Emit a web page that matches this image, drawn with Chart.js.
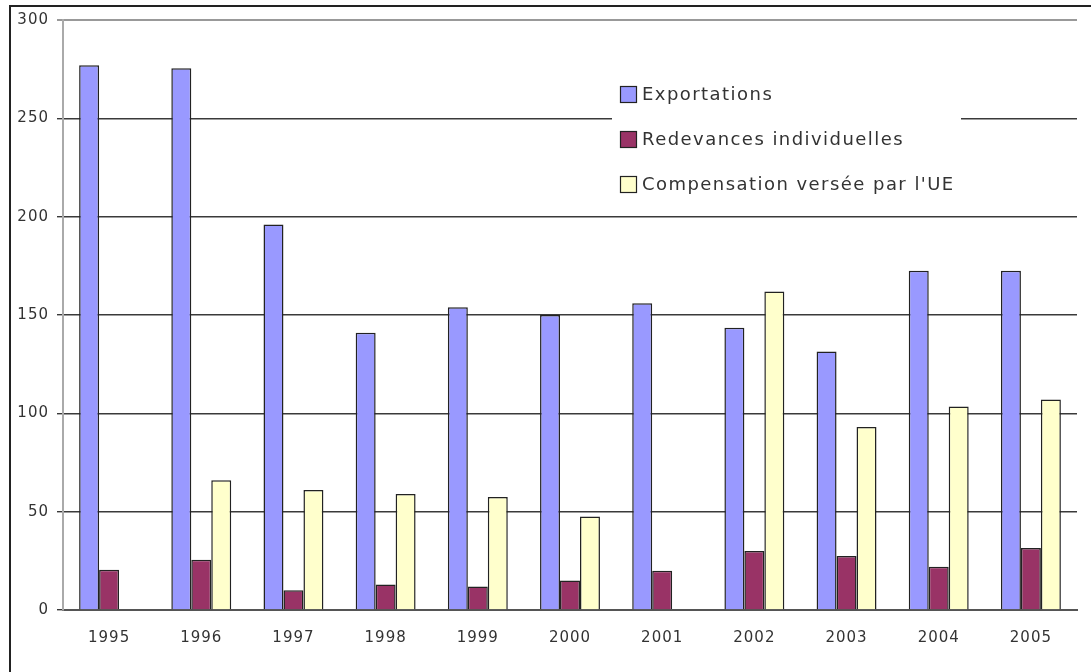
<!DOCTYPE html>
<html lang="fr">
<head>
<meta charset="utf-8">
<title>Exportations, redevances et compensation UE</title>
<script src="https://cdn.jsdelivr.net/npm/chart.js@4/dist/chart.umd.min.js"></script>
<style>
  html, body { margin: 0; padding: 0; background: #fff; }
  #wrap { position: relative; width: 1091px; height: 672px; overflow: hidden; }
  #frame {
    position: absolute; left: 9px; top: 5px; right: -10px; bottom: -10px;
    border-top: 2px solid #222; border-left: 2px solid #222;
    pointer-events: none;
  }
  canvas { position: absolute; left: 0; top: 0; }
</style>
</head>
<body>
<div id="wrap">
  <canvas id="peche" width="1091" height="672"></canvas>
  <div id="frame"></div>
</div>
<script>
const years = ['1995', '1996', '1997', '1998', '1999', '2000', '2001', '2002', '2003', '2004', '2005'];
const exportations = [277, 275.5, 196, 141, 154, 150, 156, 143.5, 131.5, 172.5, 172.5];
const redevances = [20.5, 25.5, 10, 13, 12, 15, 20, 30, 27.5, 22, 31.5];
const compensation = [null, 66, 61, 59, 57.5, 47.5, null, 162, 93, 103.5, 107];
const yTicks = [0, 50, 100, 150, 200, 250, 300];

const FONT = '"DejaVu Sans", Verdana, sans-serif';

// slightly spaced-out lettering for every label on the canvas
const spacing = {
  id: 'spacing',
  beforeDraw(chart) { chart.ctx.letterSpacing = '1px'; }
};

// legend drawn inside the plot, on a white box that hides the grid behind it
const boxLegend = {
  id: 'boxLegend',
  beforeDatasetsDraw(chart) {
    const ctx = chart.ctx;
    ctx.save();
    ctx.fillStyle = '#fff';
    ctx.fillRect(612, 62, 349, 145);
    ctx.font = '18px ' + FONT;
    ctx.letterSpacing = '1.45px';
    ctx.textBaseline = 'middle';
    chart.data.datasets.forEach((ds, i) => {
      const y = 95 + i * 45;
      ctx.fillStyle = ds.backgroundColor;
      ctx.fillRect(620.5, y - 8.5, 16, 16);
      ctx.strokeStyle = '#222';
      ctx.lineWidth = 1.2;
      ctx.strokeRect(620.5, y - 8.5, 16, 16);
      ctx.fillStyle = '#333';
      ctx.fillText(ds.label, 642, y);
    });
    ctx.restore();
  }
};

const ctx = document.getElementById('peche').getContext('2d');

new Chart(ctx, {
  type: 'bar',
  data: {
    labels: years,
    datasets: [
      { label: 'Exportations', data: exportations, backgroundColor: '#9999FF' },
      { label: 'Redevances individuelles', data: redevances, backgroundColor: '#993366' },
      { label: "Compensation versée par l'UE", data: compensation, backgroundColor: '#FFFFCC' }
    ]
  },
  options: {
    responsive: false,
    animation: false,
    layout: { padding: { top: 20, right: 14, left: 0, bottom: 0 } },
    datasets: {
      bar: {
        borderColor: '#222',
        borderWidth: 1.5,
        categoryPercentage: 0.65,
        barPercentage: 1.0
      }
    },
    plugins: {
      legend: { display: false },
      tooltip: { enabled: false }
    },
    scales: {
      x: {
        grid: { display: false, drawTicks: false },
        border: { display: true, color: '#555', width: 2 },
        ticks: { color: '#333', font: { family: FONT, size: 15 }, padding: 19 },
        afterFit: scale => { scale.height = 62; }
      },
      y: {
        min: 0,
        max: 300,
        afterBuildTicks: scale => { scale.ticks = yTicks.map(v => ({ value: v })); },
        grid: {
          color: c => (c.tick && c.tick.value === 300 ? '#999' : '#3a3a3a'),
          tickColor: c => (c.tick && c.tick.value === 300 ? '#999' : '#3a3a3a'),
          lineWidth: c => (c.tick && c.tick.value === 300 ? 2 : 1.4),
          tickLength: 6
        },
        border: { display: true, color: '#aaa', width: 2 },
        ticks: { color: '#333', font: { family: FONT, size: 15 }, padding: 8 },
        afterFit: scale => { scale.width = 63; }
      }
    }
  },
  plugins: [spacing, boxLegend]
});
</script>
</body>
</html>
